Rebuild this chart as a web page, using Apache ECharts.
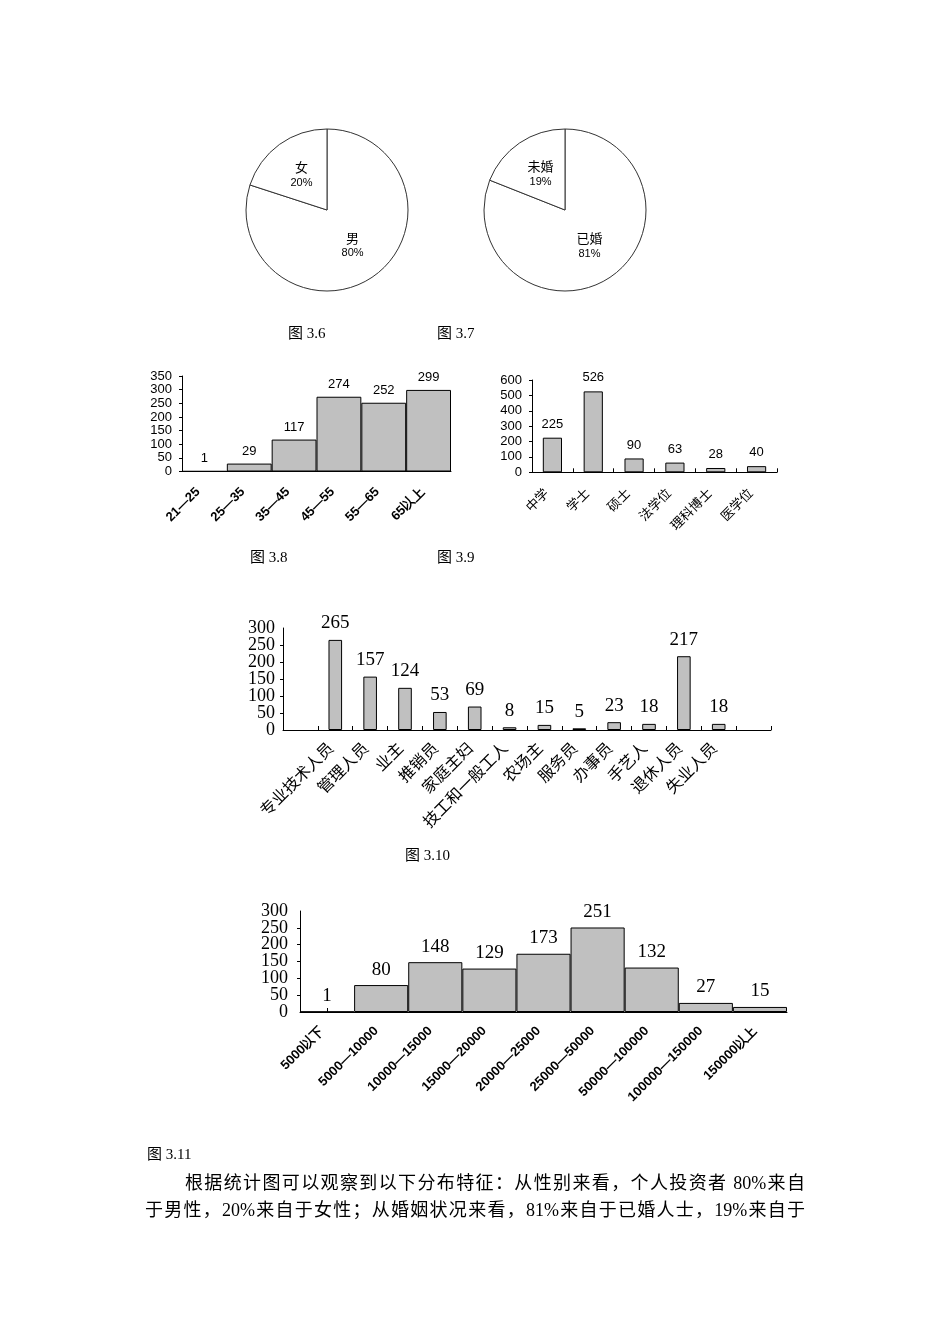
<!DOCTYPE html>
<html><head><meta charset="utf-8">
<script src="https://cdn.jsdelivr.net/npm/echarts@6/dist/echarts.min.js"></script>
<style>
html,body{margin:0;padding:0;background:#fff;}
#c{position:absolute;left:0;top:0;width:950px;height:1344px;}
.line{position:absolute;font-family:"Liberation Serif","Noto Sans CJK SC",serif;font-size:18px;line-height:22px;color:#000;text-align:justify;text-align-last:justify;}
</style></head><body>
<div id="c"></div>
<div class="line" style="left:185px;top:1172px;width:620px;">根据统计图可以观察到以下分布特征：从性别来看，个人投资者 80%来自</div>
<div class="line" style="left:145px;top:1199px;width:660px;">于男性，20%来自于女性；从婚姻状况来看，81%来自于已婚人士，19%来自于</div>
<script>
const genderNames = ['男', '女'];
const genderValues = [80, 20];
const maritalNames = ['已婚', '未婚'];
const maritalValues = [81, 19];
const ageCats = ['21—25', '25—35', '35—45', '45—55', '55—65', '65以上'];
const ageValues = [1, 29, 117, 274, 252, 299];
const eduCats = ['中学', '学士', '硕士', '法学位', '理科博士', '医学位'];
const eduValues = [225, 526, 90, 63, 28, 40];
const jobCats = ['', '专业技术人员', '管理人员', '业主', '推销员', '家庭主妇', '技工和一般工人', '农场主', '服务员', '办事员', '手艺人', '退休人员', '失业人员', ''];
const jobValues = [null, 265, 157, 124, 53, 69, 8, 15, 5, 23, 18, 217, 18, null];
const incomeCats = ['5000以下', '5000—10000', '10000—15000', '15000—20000', '20000—25000', '25000—50000', '50000—100000', '100000—150000', '150000以上'];
const incomeValues = [1, 80, 148, 129, 173, 251, 132, 27, 15];

const SANS = '"Liberation Sans", Arial, sans-serif';
const SERIF = '"Liberation Serif", "Noto Sans CJK SC", serif';
const CJK = '"Noto Sans CJK SC", sans-serif';
const BAR = '#c0c0c0';

function pie(names, values, cx) {
  return {
    type: 'pie', center: [cx, 210], radius: 81, startAngle: 90, clockwise: true,
    silent: true, animation: false,
    itemStyle: { color: '#fff', borderColor: '#333', borderWidth: 1 },
    label: {
      show: true, position: 'inside', color: '#000',
      formatter: p => '{n|' + p.name + '}\n{p|' + p.value + '%}',
      rich: {
        n: { fontFamily: CJK, fontSize: 13, lineHeight: 16, color: '#000' },
        p: { fontFamily: SANS, fontSize: 11, lineHeight: 15, color: '#000' }
      }
    },
    labelLine: { show: false },
    data: names.map((n, i) => ({ name: n, value: values[i] }))
  };
}

function yAxis(gi, max, interval, font, size, margin) {
  return {
    type: 'value', gridIndex: gi, position: 'left', min: 0, max: max, interval: interval,
    axisLine: { show: true, lineStyle: { color: '#000', width: 1 } },
    axisTick: { show: true, length: 3, lineStyle: { color: '#000' } },
    splitLine: { show: false },
    axisLabel: { color: '#000', fontFamily: font, fontSize: size, margin: margin,
      showMinLabel: true, showMaxLabel: true, hideOverlap: false }
  };
}

// companion axis on the same side: ticks every 50, labels at odd multiples of 50
function yAxisHalf(gi, max, step, font, size, margin) {
  return {
    type: 'value', gridIndex: gi, position: 'left', offset: 0, min: 0, max: max, interval: step,
    axisLine: { show: false },
    axisTick: { show: true, length: 3, lineStyle: { color: '#000' } },
    splitLine: { show: false },
    axisLabel: { color: '#000', fontFamily: font, fontSize: size, margin: margin,
      showMinLabel: false, showMaxLabel: false, hideOverlap: false,
      formatter: v => (v % (step * 2) === 0 ? '' : String(v)) }
  };
}

function xAxis(gi, data, labelOpt, tickOpt) {
  return {
    type: 'category', gridIndex: gi, data: data,
    axisLine: { show: true, lineStyle: { color: '#000', width: 1 } },
    axisTick: tickOpt,
    splitLine: { show: false },
    axisLabel: Object.assign({ interval: 0, rotate: 45, color: '#000', hideOverlap: false }, labelOpt)
  };
}

function bars(gi, values, gap, labelFont, labelSize, dist) {
  return {
    type: 'bar', xAxisIndex: gi, yAxisIndex: gi, data: values,
    barCategoryGap: gap, silent: true, animation: false,
    itemStyle: { color: BAR, borderColor: '#000', borderWidth: 1 },
    label: { show: true, position: 'top', distance: dist, color: '#000', fontFamily: labelFont, fontSize: labelSize }
  };
}

function caption(text, x, y) {
  return { type: 'text', left: x, top: y, style: { text: text, fill: '#000', font: '15px ' + SERIF } };
}

const yMain2 = yAxis(2, 300, 100, SERIF, 18, 8);
yMain2.axisTick.show = false;
const yMain3 = yAxis(3, 300, 100, SERIF, 18, 12);
yMain3.axisTick.show = false;

const chart = echarts.init(document.getElementById('c'), null, { renderer: 'canvas' });
chart.setOption({
  animation: false,
  backgroundColor: '#fff',
  grid: [
    { left: 182, top: 376, width: 269, height: 95.5, outerBoundsMode: 'none', containLabel: false },
    { left: 532, top: 380, width: 245, height: 92.3, outerBoundsMode: 'none', containLabel: false },
    { left: 283, top: 628, width: 488, height: 102, outerBoundsMode: 'none', containLabel: false },
    { left: 300, top: 911, width: 487, height: 101, outerBoundsMode: 'none', containLabel: false }
  ],
  xAxis: [
    xAxis(0, ageCats, { fontFamily: SANS, fontSize: 13, fontWeight: 'bold', margin: 12, padding: [0, 9, 0, 0] }, { show: false }),
    xAxis(1, eduCats, { fontFamily: CJK, fontSize: 13, margin: 12, padding: [0, 9, 0, 0] }, { show: true, inside: true, length: 4, lineStyle: { color: '#000' } }),
    xAxis(2, jobCats, { fontFamily: CJK, fontSize: 16, margin: 10, padding: [0, 7, 0, 0] }, { show: true, inside: true, length: 4, lineStyle: { color: '#000' } }),
    xAxis(3, incomeCats, { fontFamily: SANS, fontSize: 13, fontWeight: 'bold', margin: 12, padding: [0, 7, 0, 0] }, { show: true, inside: true, length: 4, alignWithLabel: true, lineStyle: { color: '#000' } })
  ],
  yAxis: [
    yAxis(0, 350, 50, SANS, 13, 10),
    yAxis(1, 600, 100, SANS, 13, 10),
    yMain2,
    yMain3,
    yAxisHalf(2, 300, 50, SERIF, 18, 8),
    yAxisHalf(3, 300, 50, SERIF, 18, 12)
  ],
  series: [
    pie(genderNames, genderValues, 327),
    pie(maritalNames, maritalValues, 565),
    bars(0, ageValues, '0%', SANS, 13, 6),
    bars(1, eduValues, '53%', SANS, 13, 7),
    bars(2, jobValues, '61%', SERIF, 19, 7),
    bars(3, incomeValues, '0%', SERIF, 19, 6)
  ],
  graphic: [
    caption('图 3.6', 288, 327),
    caption('图 3.7', 437, 327),
    caption('图 3.8', 250, 551),
    caption('图 3.9', 437, 551),
    caption('图 3.10', 405, 849),
    caption('图 3.11', 147, 1148)
  ]
});
</script>
</body></html>
